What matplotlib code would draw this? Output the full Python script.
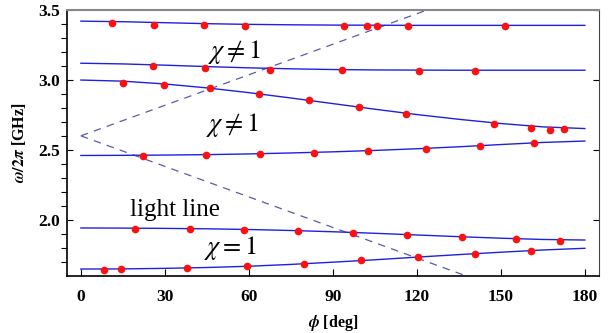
import numpy as np
import matplotlib
matplotlib.use("Agg")
import matplotlib.pyplot as plt

plt.rcParams["font.family"] = ["Liberation Serif", "DejaVu Serif"]
plt.rcParams["mathtext.fontset"] = "stix"

# === DATA ===
# band curves, sampled every 15 deg
phi_line = [0, 15, 30, 45, 60, 75, 90, 105, 120, 135, 150, 165, 180]
band1 = [3.418, 3.414, 3.407, 3.400, 3.395, 3.392, 3.390, 3.389, 3.388, 3.388, 3.388, 3.388, 3.388]
band2 = [3.118, 3.113, 3.104, 3.094, 3.085, 3.078, 3.073, 3.070, 3.069, 3.068, 3.068, 3.068, 3.068]
band3 = [2.998, 2.990, 2.970, 2.942, 2.908, 2.870, 2.830, 2.790, 2.752, 2.718, 2.688, 2.664, 2.652]
band4 = [2.460, 2.461, 2.463, 2.466, 2.471, 2.478, 2.486, 2.496, 2.508, 2.522, 2.538, 2.553, 2.563]
band5 = [1.943, 1.942, 1.940, 1.937, 1.932, 1.925, 1.916, 1.905, 1.893, 1.881, 1.870, 1.861, 1.857]
band6 = [1.650, 1.651, 1.655, 1.661, 1.670, 1.683, 1.699, 1.716, 1.735, 1.753, 1.770, 1.786, 1.798]

# measured points (red)
pts1_phi = [11.1, 26.0, 43.9, 58.6, 93.9, 102.1, 105.7, 116.8, 151.4]
pts1_f = [3.404, 3.394, 3.388, 3.384, 3.382, 3.382, 3.383, 3.381, 3.382]
pts2_phi = [25.7, 44.5, 67.6, 93.4, 120.7, 140.7]
pts2_f = [3.101, 3.084, 3.073, 3.068, 3.063, 3.063]
pts3_phi = [15.1, 29.8, 46.1, 63.6, 81.5, 99.4, 116.1, 147.4, 160.8, 167.5, 172.7]
pts3_f = [2.980, 2.966, 2.942, 2.901, 2.854, 2.804, 2.758, 2.687, 2.659, 2.644, 2.646]
pts4_phi = [22.3, 44.6, 64.0, 83.3, 102.7, 123.1, 142.5, 161.8]
pts4_f = [2.456, 2.461, 2.468, 2.477, 2.491, 2.509, 2.527, 2.549]
pts5_phi = [19.5, 38.8, 58.1, 77.5, 97.1, 116.5, 136.2, 155.4, 171.2]
pts5_f = [1.936, 1.933, 1.929, 1.919, 1.907, 1.895, 1.879, 1.862, 1.852]
pts6_phi = [8.2, 14.5, 37.9, 59.2, 79.8, 100.2, 120.5, 140.6, 160.6]
pts6_f = [1.645, 1.648, 1.655, 1.669, 1.688, 1.712, 1.733, 1.759, 1.781]

# light line: starts at 2.6 GHz, slope in GHz/deg
light_f0 = 2.6
light_slope = 0.00726
light_phi = [0, 180]

fig = plt.figure(figsize=(6.08, 3.33), dpi=100)
ax = fig.add_axes([0.110, 0.171, 0.875, 0.800])

# light lines
lp = np.array(light_phi)
ax.plot(lp, light_f0 + light_slope * lp, ls=(0, (6, 5)), color="#5a5aa8", lw=0.9)
ax.plot(lp, light_f0 - light_slope * lp, ls=(0, (6, 5)), color="#5a5aa8", lw=0.9)

for b in [band1, band2, band3, band4, band5, band6]:
    ax.plot(phi_line, b, color="#2020e0", lw=1.0)

for p, f in [(pts1_phi, pts1_f), (pts2_phi, pts2_f), (pts3_phi, pts3_f),
             (pts4_phi, pts4_f), (pts5_phi, pts5_f), (pts6_phi, pts6_f)]:
    ax.plot(p, f, "o", color="#ff1010", ms=5.5, mec="none", zorder=5)

ax.text(55, 3.196, r"$\chi \neq 1$", fontsize=19, ha="center", va="center")
ax.text(54, 2.675, r"$\chi \neq 1$", fontsize=19, ha="center", va="center")
ax.text(53.5, 1.80, r"$\chi = 1$", fontsize=19, ha="center", va="center")
ax.text(17.5, 2.03, "light line", fontsize=18, ha="left", va="baseline")

ax.set_xlim(-5, 185)
ax.set_ylim(1.6, 3.5)
ax.set_xticks([0, 30, 60, 90, 120, 150, 180])
ax.set_yticks([2.0, 2.5, 3.0, 3.5])
ax.set_yticks(np.arange(1.7, 3.45, 0.1), minor=True)
ax.tick_params(axis="both", direction="in", labelsize=12.5, top=False, right=True)
ax.tick_params(axis="y", which="both", length=4, width=0.8, pad=5)
ax.tick_params(axis="x", length=5, width=0.8, pad=9)
for lab in ax.get_xticklabels() + ax.get_yticklabels():
    lab.set_fontweight("bold")

ax.spines["top"].set_color("#888888")
ax.spines["top"].set_linewidth(1.5)
ax.spines["right"].set_color("#444444")
for s in ["left", "bottom"]:
    ax.spines[s].set_linewidth(1.2)

ax.set_xlabel(r"$\boldsymbol{\phi}$ [deg]", fontsize=11.5, fontweight="bold", labelpad=6)
ax.set_ylabel(r"$\boldsymbol{\omega/2\pi}$ [GHz]", fontsize=11.5, fontweight="bold", labelpad=7)

fig.savefig("out.png", dpi=100)
